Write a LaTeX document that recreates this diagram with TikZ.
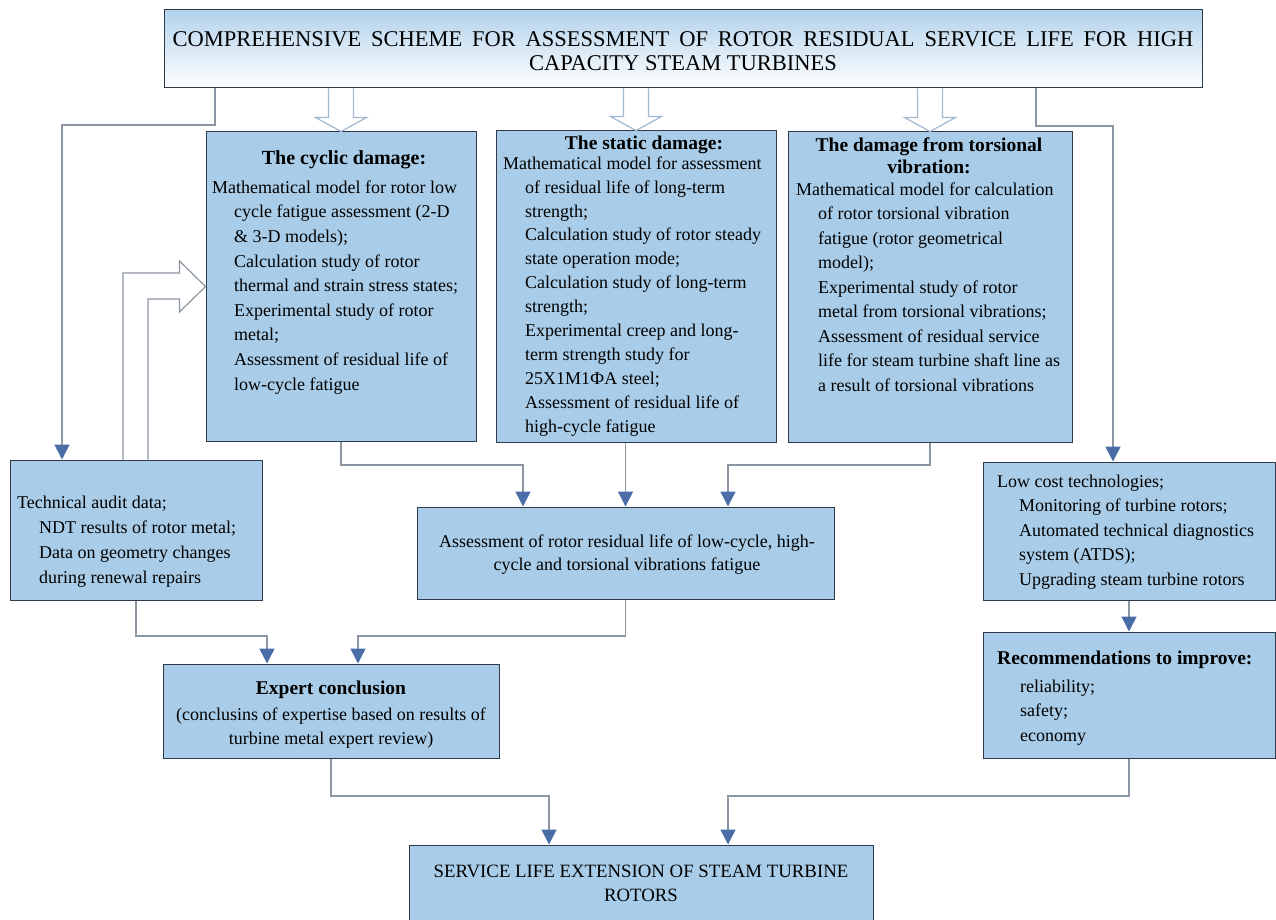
\documentclass[tikz,border=0pt]{standalone}
\usepackage{fontspec}
\setmainfont{Liberation Serif}
\usetikzlibrary{arrows.meta,calc}
\definecolor{boxfill}{RGB}{169,205,233}
\definecolor{boxline}{RGB}{46,59,74}
\definecolor{connline}{RGB}{140,150,162}
\definecolor{tipblue}{RGB}{74,109,167}
\definecolor{hollowline}{RGB}{160,184,208}
\definecolor{topfill}{RGB}{178,210,236}
\newcommand\bodyfont[1]{\fontsize{18}{#1}\selectfont}
\newcommand\ttlfont{\fontsize{19.5}{22}\selectfont\bfseries}
\newcommand\ind{\hspace*{22pt}}
\newcommand\fst{\rule{0pt}{14pt}}
\begin{document}
\begin{tikzpicture}[x=1pt,y=-1pt,
  box/.style={draw=boxline,line width=1pt,fill=boxfill,inner sep=0pt},
  conn/.style={draw=connline,line width=1.5pt,-{Triangle[width=15pt,length=15pt,color=tipblue]}},
  hollow/.style={draw=hollowline,line width=1.2pt,fill=white,line join=miter},
  bent/.style={draw=connline,line width=1.2pt,line join=miter},
  txt/.style={inner sep=0pt,align=left,anchor=north west},
  ctxt/.style={inner sep=0pt,align=center,anchor=north}]
\useasboundingbox (0,0) rectangle (1276,920);
% boxes
\node[box,minimum width=1038pt,minimum height=78pt,top color=topfill,bottom color=white] (top) at (683,49) {};
\node[box,minimum width=270pt,minimum height=309pt] (cyclic) at (341,286.5) {};
\node[box,minimum width=280pt,minimum height=311pt] (static) at (636,286.5) {};
\node[box,minimum width=284pt,minimum height=310pt] (tors) at (930,287) {};
\node[box,minimum width=252pt,minimum height=140pt] (audit) at (136,530) {};
\node[box,minimum width=417pt,minimum height=92pt] (assess) at (625.5,553) {};
\node[box,minimum width=292pt,minimum height=138pt] (lowcost) at (1129,531) {};
\node[box,minimum width=336pt,minimum height=94pt] (expert) at (331,711) {};
\node[box,minimum width=292pt,minimum height=126pt] (recom) at (1129,695) {};
\node[box,minimum width=464pt,minimum height=110pt] (service) at (641,900) {};
% routing points
\coordinate (l1) at (215,125); \coordinate (l2) at (62,125);
\coordinate (r1) at (1036,126); \coordinate (r2) at (1113,126);
\coordinate (a1) at (523,465); \coordinate (a3) at (728,465);
\coordinate (e1) at (267,636); \coordinate (e2) at (358,636);
\coordinate (s1) at (549,796); \coordinate (s2) at (728,796);
\coordinate (b1) at (123,0); \coordinate (b2) at (148,0);
% connectors
\draw[conn] (top.south -| l1) -- (l1) -- (l2) -- (audit.north -| l2);
\draw[conn] (top.south -| r1) -- (r1) -- (r2) -- (lowcost.north -| r2);
\draw[conn] (cyclic.south) |- (a1) -- (assess.north -| a1);
\draw[conn] (static.south -| assess.north) -- (assess.north);
\draw[conn] (tors.south) |- (a3) -- (assess.north -| a3);
\draw[conn] (audit.south) |- (e1) -- (expert.north -| e1);
\draw[conn] (assess.south) |- (e2) -- (expert.north -| e2);
\draw[conn] (lowcost.south) -- (recom.north);
\draw[conn] (expert.south) |- (s1) -- (service.north -| s1);
\draw[conn] (recom.south) |- (s2) -- (service.north -| s2);
% hollow block arrows
\foreach \b in {cyclic,static,tors}{
  \draw[hollow] ($(top.south -| \b.north)+(-12.5,0)$) -- ($(\b.north)+(-12.5,-14)$) -- ($(\b.north)+(-25.5,-14)$) -- (\b.north) -- ($(\b.north)+(25.5,-14)$) -- ($(\b.north)+(12.5,-14)$) -- ($(top.south -| \b.north)+(12.5,0)$);
}
\draw[bent] (audit.north -| b1) |- ($(cyclic.west)+(-26,-13.5)$) -- ($(cyclic.west)+(-26,-25.5)$) -- (cyclic.west) -- ($(cyclic.west)+(-26,25.5)$) -- ($(cyclic.west)+(-26,12.5)$) -| (audit.north -| b2);
% texts
\node[ctxt,font=\fontsize{22.5}{24}\selectfont] (top-t) at (683,31) {\fst\makebox[1021pt][s]{COMPREHENSIVE SCHEME FOR ASSESSMENT OF ROTOR RESIDUAL SERVICE LIFE FOR HIGH}\\CAPACITY STEAM TURBINES};
\node[ctxt,font=\fontsize{20}{22}\selectfont\bfseries] (cyclic-h) at (344,150.5) {\fst The cyclic damage:};
\node[txt,font=\bodyfont{24.6}] (cyclic-t) at (212,179) {\fst Mathematical model for rotor low\\
\ind cycle fatigue assessment (2-D\\
\ind \& 3-D models);\\
\ind Calculation study of rotor\\
\ind thermal and strain stress states;\\
\ind Experimental study of rotor\\
\ind metal;\\
\ind Assessment of residual life of\\
\ind low-cycle fatigue};
\node[ctxt,font=\ttlfont] (static-h) at (644,135.5) {\fst The static damage:};
\node[txt,font=\bodyfont{23.9}] (static-t) at (503,155) {\fst Mathematical model for assessment\\
\ind of residual life of long-term\\
\ind strength;\\
\ind Calculation study of rotor steady\\
\ind state operation mode;\\
\ind Calculation study of long-term\\
\ind strength;\\
\ind Experimental creep and long-\\
\ind term strength study for\\
\ind 25X1M1ФA steel;\\
\ind Assessment of residual life of\\
\ind high-cycle fatigue};
\node[ctxt,font=\ttlfont] (tors-h) at (929,137) {\fst The damage from torsional\\vibration:};
\node[txt,font=\bodyfont{24.5}] (tors-t) at (796,181) {\fst Mathematical model for calculation\\
\ind of rotor torsional vibration\\
\ind fatigue (rotor geometrical\\
\ind model);\\
\ind Experimental study of rotor\\
\ind metal from torsional vibrations;\\
\ind Assessment of residual service\\
\ind life for steam turbine shaft line as\\
\ind a result of torsional vibrations};
\node[txt,font=\bodyfont{25}] (audit-t) at (17,494) {\fst Technical audit data;\\
\ind NDT results of rotor metal;\\
\ind Data on geometry changes\\
\ind during renewal repairs};
\node[ctxt,font=\bodyfont{23}] (assess-t) at (627,533) {\fst Assessment of rotor residual life of low-cycle, high-\\cycle and torsional vibrations fatigue};
\node[txt,font=\bodyfont{24.5}] (lowcost-t) at (997,473) {\fst Low cost technologies;\\
\ind Monitoring of turbine rotors;\\
\ind Automated technical diagnostics\\
\ind system (ATDS);\\
\ind Upgrading steam turbine rotors};
\node[ctxt,font=\ttlfont] (expert-h) at (331,680) {\fst Expert conclusion};
\node[ctxt,font=\bodyfont{24}] (expert-t) at (331,706) {\fst (conclusins of expertise based on results of\\turbine metal expert review)};
\node[txt,font=\ttlfont] (recom-h) at (997,650.5) {\fst Recommendations to improve:};
\node[txt,font=\bodyfont{24.5}] (recom-t) at (1020,678) {\fst reliability;\\safety;\\economy};
\node[ctxt,font=\fontsize{18.8}{24}\selectfont] (service-t) at (641,863) {\fst SERVICE LIFE EXTENSION OF STEAM TURBINE\\ROTORS};
\end{tikzpicture}
\end{document}
